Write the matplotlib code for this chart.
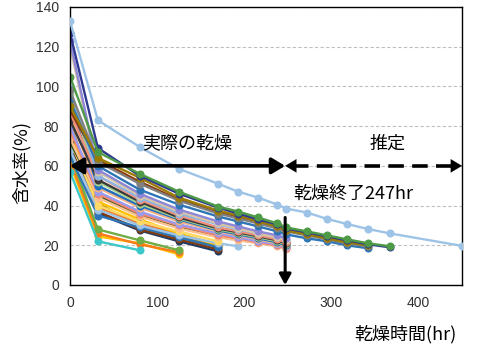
import matplotlib
matplotlib.use("Agg")
import matplotlib.pyplot as plt
import numpy as np

plt.rcParams['font.family'] = ['Noto Sans CJK JP', 'DejaVu Sans']

# Measurement times (hr)
times = [0, 32, 80, 125, 170, 193, 216, 238, 248, 272, 295, 318, 342, 367]

# Estimated (extrapolated) series
est_times = [0, 32, 80, 125, 170, 193, 216, 238, 248, 272, 295, 318, 342, 367, 450]
est_values = [133, 83, 69.5, 58.5, 51, 47, 44, 40.5, 38.5, 36.5, 33.3, 30.7, 28.2, 26, 19.7]
est_color = '#9DC3E6'

# Moisture content series (%), each truncated where its measurements stop
series_values = [
    [105, 67, 56, 47, 39.5, 37, 34, 31, 29, 27, 25, 23, 21, 19.5],
    [127, 69, 55, 46, 39, 36, 33, 30.5, 28.5, 26.5, 24.5, 22.5, 20.5, 19],
    [90, 64, 54, 44, 37.5, 35, 32, 29.5, 27.5, 25.5, 23.5, 21.5, 20],
    [98, 62, 51, 42.5, 36, 33.5, 31, 28.5, 27, 25, 23, 21, 19.5],
    [93, 60, 48, 40.5, 34.5, 32, 29.5, 27, 25.5, 23.5, 22, 20, 18.5],
    [88, 63, 52, 43, 36.5, 34, 31.5, 29, 27.5, 25.5, 23.5, 21.5],
    [123, 58, 46, 38, 32, 29.5, 27, 25, 23.5],
    [120, 57, 45, 37, 31, 28.5, 26, 24, 22.5],
    [99, 55, 44, 36, 30.5, 28, 26, 24, 22.5],
    [87, 55, 43, 35, 29, 27, 25, 23, 21.5],
    [83, 53, 42, 34, 28.5, 26.5, 24.5, 22.5, 21],
    [96, 52, 41, 33.5, 28, 26, 24, 22, 20.5],
    [91, 50, 40, 33, 27.5, 25.5, 23.5, 21.5, 20],
    [85, 49, 39, 32, 27, 25, 23, 21, 19.5],
    [80, 47, 37, 30.5, 26, 24, 22, 20.5, 19],
    [78, 46, 36, 30, 25, 23.5, 21.5, 20, 18.5],
    [74, 44, 34.5, 28.5, 24, 22.5, 21, 19.5, 18],
    [72, 45, 35, 29, 24.5, 23, 21.5, 20, 19],
    [73, 40, 32, 27, 22],
    [68, 38, 30, 25, 21, 19.5],
    [65, 35, 29, 24, 19],
    [77, 42, 33, 26, 20],
    [70, 37, 28, 23, 18],
    [76, 36, 27.5, 22, 17],
    [80, 39, 31, 25.5, 20.5],
    [82, 41, 30, 24.5, 19.5],
    [57, 22, 17.5],
    [66, 28, 22.5, 17.5],
    [63, 26, 20.5, 16.5],
    [61, 24.5, 21, 15.5],
]
series_colors = [
    '#4E9A47', '#2F3A8F', '#9C7C00', '#808080', '#2E75B6', '#8B3A0E',
    '#8E86D6', '#D9C7A5', '#8DB4E2', '#F0907A', '#3A3A3A', '#A9D18E',
    '#1F6FC0', '#F4B183', '#9A9AF0', '#F4866B', '#FAC090', '#375623',
    '#FFD966', '#9DC3E6', '#2E75B6', '#FFC000', '#843C0C', '#203864',
    '#ED7D31', '#BF9000',
    '#3CC8C8', '#70AD47', '#F97B1A', '#FFC000',
]

x_ticks = [0, 100, 200, 300, 400]
y_ticks = [0, 20, 40, 60, 80, 100, 120, 140]
dry_end = 247

fig = plt.figure(figsize=(4.81, 3.45), dpi=100)
ax = fig.add_axes([70/481, 60/345, 392/481, 278/345])

# draw in reverse so the first (top) series are on top
for vals, col in reversed(list(zip(series_values, series_colors))):
    ax.plot(times[:len(vals)], vals, color=col, lw=1.7, marker='o', ms=5.8,
            markeredgewidth=0, zorder=2)
ax.plot(est_times, est_values, color=est_color, lw=1.7, marker='o', ms=5.8,
        markeredgewidth=0, zorder=3)

ax.set_xlim(0, 450)
ax.set_ylim(0, 140)
ax.set_xticks(x_ticks)
ax.set_yticks(y_ticks)
ax.tick_params(length=0, pad=8, labelsize=10, labelcolor='#303030')
for lab in ax.get_xticklabels() + ax.get_yticklabels():
    lab.set_fontfamily('Liberation Sans')
ax.yaxis.grid(True, color='#BFBFBF', lw=0.8, linestyle=(0, (3, 2)))
ax.set_axisbelow(True)
for s in ax.spines.values():
    s.set_color('black')
    s.set_linewidth(1.0)

head = '-|>,head_length=0.4,head_width=0.24'
# solid arrow (actual drying)
ax.annotate('', xy=(0, 60), xytext=(dry_end, 60),
            arrowprops=dict(arrowstyle='<|-|>,head_length=0.4,head_width=0.24',
                            color='black', lw=2.6, mutation_scale=20,
                            shrinkA=0, shrinkB=0), zorder=6)
# dashed arrow (estimate)
ax.plot([dry_end + 9, 440], [60, 60], color='black', lw=2.6,
        linestyle=(0, (4.3, 2.3)), zorder=6, solid_capstyle='butt')
ax.annotate('', xy=(dry_end, 60), xytext=(dry_end + 9, 60),
            arrowprops=dict(arrowstyle=head, color='black', lw=0.1,
                            mutation_scale=20, shrinkA=0, shrinkB=0), zorder=6)
ax.annotate('', xy=(450, 60), xytext=(440, 60),
            arrowprops=dict(arrowstyle=head, color='black', lw=0.1,
                            mutation_scale=20, shrinkA=0, shrinkB=0),
            zorder=6, annotation_clip=False)
# vertical arrow (end of drying)
ax.annotate('', xy=(dry_end, 0), xytext=(dry_end, 34),
            arrowprops=dict(arrowstyle='-|>,head_length=0.4,head_width=0.22',
                            color='black', lw=2.2, mutation_scale=16,
                            shrinkA=0, shrinkB=0), zorder=6)

ax.text(134, 71.5, '実際の乾燥', fontsize=13, ha='center', va='center', zorder=7)
ax.text(364, 71, '推定', fontsize=13, ha='center', va='center', zorder=7)
ax.text(256, 46, '乾燥終了247hr', fontsize=13, ha='left', va='center', zorder=7)

ax.set_ylabel('含水率(%)', fontsize=13)
ax.yaxis.set_label_coords(-0.10, 0.44)
ax.set_xlabel('乾燥時間(hr)', fontsize=13, ha='right')
ax.xaxis.set_label_coords(0.985, -0.145)

fig.savefig('out.png', dpi=100)
